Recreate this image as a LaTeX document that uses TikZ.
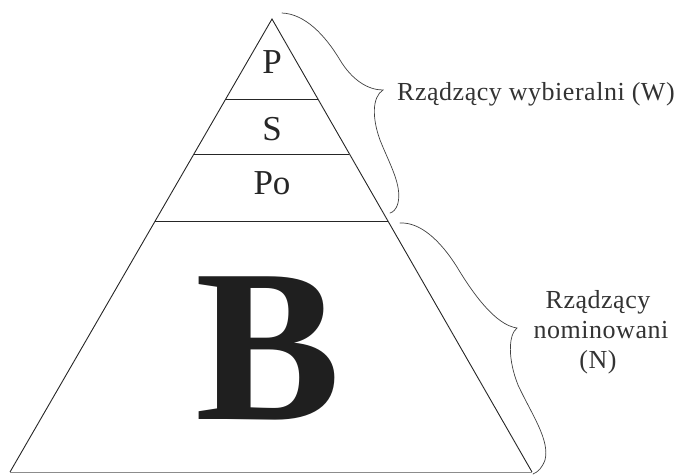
\documentclass[tikz,border=0pt]{standalone}
\usepackage{fontspec}
\setmainfont{Liberation Serif}
\usetikzlibrary{calc}
\begin{document}
\begin{tikzpicture}[x=1pt,y=-1pt,
  edge/.style={draw=black!85, line width=0.9pt},
  baseedge/.style={draw=black!45, line width=0.6pt},
  bracepath/.style={draw=black!75, line width=0.7pt, line cap=round},
  layerlbl/.style={font=\fontsize{35}{40}\selectfont, text=black!85, inner sep=0pt},
  sidelbl/.style={font=\fontsize{26}{30}\selectfont\addfontfeatures{LetterSpace=2}, text=black!80, inner sep=0pt},
  biglbl/.style={font=\fontsize{218}{220}\selectfont\bfseries, text=black!88, inner sep=0pt}]
\useasboundingbox (0,0) rectangle (676,475);
\coordinate (apex) at (272,19);
\coordinate (bl) at (10,472);
\coordinate (br) at (532,472);
\draw[edge] (bl) -- (apex) -- (br);
\draw[baseedge] (bl) -- (br);
\coordinate (l1) at ($(apex)!0.1766!(bl)$);
\coordinate (r1) at ($(apex)!0.1766!(br)$);
\coordinate (l2) at ($(apex)!0.298!(bl)$);
\coordinate (r2) at ($(apex)!0.298!(br)$);
\coordinate (l3) at ($(apex)!0.446!(bl)$);
\coordinate (r3) at ($(apex)!0.446!(br)$);
\draw[edge] (l1) -- (r1);
\draw[edge] (l2) -- (r2);
\draw[edge] (l3) -- (r3);
\node[layerlbl] (p) at (272,62) {P};
\node[layerlbl] (s) at (272,129) {S};
\node[layerlbl] (po) at (272,183) {Po};
\node[biglbl] (b) at (268,348) {B};
% upper brace
\draw[bracepath] (282,13) .. controls (305,14) and (325,35) .. (340,60)
  .. controls (352,80) and (368,90) .. (383,90)
  .. controls (372,97) and (372,118) .. (380,140)
  .. controls (390,165) and (402,185) .. (398,203)
  .. controls (396,210) and (393,212) .. (390,213);
\node[sidelbl, anchor=base west] (w) at (397,100) {Rządzący wybieralni (W)};
% lower brace
\draw[bracepath] (400,223) .. controls (420,222) and (440,240) .. (457,267)
  .. controls (472,292) and (495,325) .. (517,328)
  .. controls (508,335) and (508,360) .. (518,385)
  .. controls (532,415) and (550,440) .. (545,460)
  .. controls (542,468) and (538,472) .. (533,474);
\node[sidelbl, anchor=base] (n1) at (598,308) {Rządzący};
\node[sidelbl, anchor=base] (n2) at (601,338) {nominowani};
\node[sidelbl, anchor=base] (n3) at (598,368) {(N)};
\end{tikzpicture}
\end{document}
